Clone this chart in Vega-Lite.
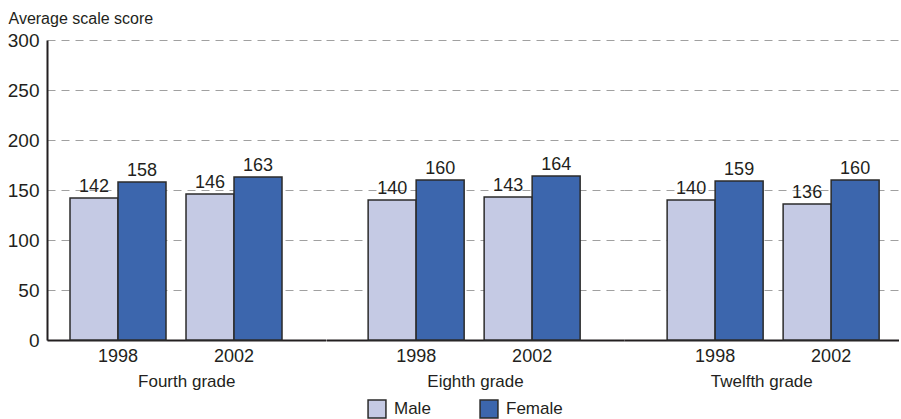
{
  "$schema": "https://vega.github.io/schema/vega-lite/v6.json",
  "padding": {"left": 7, "top": 10, "right": 3, "bottom": 0},
  "background": "white",
  "config": {
    "font": "Liberation Sans",
    "view": {"stroke": null},
    "axis": {"labelColor": "#231f20", "titleColor": "#231f20"}
  },
  "data": {
    "values": [
      {"grade": "Fourth grade", "year": "1998", "gender": "Male", "score": 142},
      {"grade": "Fourth grade", "year": "1998", "gender": "Female", "score": 158},
      {"grade": "Fourth grade", "year": "2002", "gender": "Male", "score": 146},
      {"grade": "Fourth grade", "year": "2002", "gender": "Female", "score": 163},
      {"grade": "Eighth grade", "year": "1998", "gender": "Male", "score": 140},
      {"grade": "Eighth grade", "year": "1998", "gender": "Female", "score": 160},
      {"grade": "Eighth grade", "year": "2002", "gender": "Male", "score": 143},
      {"grade": "Eighth grade", "year": "2002", "gender": "Female", "score": 164},
      {"grade": "Twelfth grade", "year": "1998", "gender": "Male", "score": 140},
      {"grade": "Twelfth grade", "year": "1998", "gender": "Female", "score": 159},
      {"grade": "Twelfth grade", "year": "2002", "gender": "Male", "score": 136},
      {"grade": "Twelfth grade", "year": "2002", "gender": "Female", "score": 160}
    ]
  },
  "spacing": 0,
  "hconcat": [
    {
      "width": 278.5,
      "height": 300,
      "transform": [{"filter": "datum.grade === 'Fourth grade'"}],
      "encoding": {
        "x": {"field": "year", "type": "nominal",
          "scale": {"paddingInner": 0.1724, "paddingOuter": 0.2866, "align": 0.346},
          "axis": {"title": "Fourth grade", "labelAngle": 0, "ticks": false, "domainColor": "#231f20", "domainWidth": 2, "labelFontSize": 18, "titleFontSize": 17, "titleFontWeight": "normal", "labelPadding": 7, "titlePadding": 8}},
        "xOffset": {"field": "gender", "type": "nominal", "sort": ["Male", "Female"]},
        "y": {"field": "score", "type": "quantitative",
          "scale": {"domain": [0, 300]},
          "axis": {"values": [0, 50, 100, 150, 200, 250, 300], "ticks": false, "domainColor": "#231f20", "domainWidth": 2, "labelFontSize": 19, "labelPadding": 8, "gridDash": [8, 6], "gridColor": "#a0a0a0", "title": "Average scale score", "titleAngle": 0, "titleAlign": "left", "titleBaseline": "alphabetic", "titleX": -39, "titleY": -17, "titleFontSize": 16, "titleFontWeight": "normal"}}
      },
      "layer": [
        {"mark": {"type": "bar", "stroke": "#2b2b2b", "strokeWidth": 1.5},
         "encoding": {"color": {"field": "gender", "type": "nominal", "sort": ["Male", "Female"],
           "scale": {"domain": ["Male", "Female"], "range": ["#c5cae4", "#3c66ad"]},
           "legend": {"orient": "none", "legendX": 320, "legendY": 359, "direction": "horizontal", "title": null, "symbolType": "square", "symbolSize": 320, "symbolStrokeColor": "#2b2b2b", "symbolStrokeWidth": 1.5, "symbolOpacity": 1, "labelFontSize": 17, "labelColor": "#231f20", "columnPadding": 46, "labelOffset": 7}}}},
        {"mark": {"type": "text", "baseline": "bottom", "dy": -2, "fontSize": 18, "color": "#231f20"},
         "encoding": {"text": {"field": "score", "type": "quantitative"}}}
      ]
    },
    {
      "width": 298,
      "height": 300,
      "transform": [{"filter": "datum.grade === 'Eighth grade'"}],
      "encoding": {
        "x": {"field": "year", "type": "nominal",
          "scale": {"paddingInner": 0.1724, "paddingOuter": 0.3707, "align": 0.49},
          "axis": {"title": "Eighth grade", "labelAngle": 0, "ticks": false, "domainColor": "#231f20", "domainWidth": 2, "labelFontSize": 18, "titleFontSize": 17, "titleFontWeight": "normal", "labelPadding": 7, "titlePadding": 8}},
        "xOffset": {"field": "gender", "type": "nominal", "sort": ["Male", "Female"]},
        "y": {"field": "score", "type": "quantitative",
          "scale": {"domain": [0, 300]},
          "axis": {"values": [0, 50, 100, 150, 200, 250, 300], "labels": false, "ticks": false, "domain": false, "gridDash": [8, 6], "gridColor": "#a0a0a0", "title": null}}
      },
      "layer": [
        {"mark": {"type": "bar", "stroke": "#2b2b2b", "strokeWidth": 1.5},
         "encoding": {"color": {"field": "gender", "type": "nominal", "sort": ["Male", "Female"],
           "scale": {"domain": ["Male", "Female"], "range": ["#c5cae4", "#3c66ad"]}}}},
        {"mark": {"type": "text", "baseline": "bottom", "dy": -2, "fontSize": 18, "color": "#231f20"},
         "encoding": {"text": {"field": "score", "type": "quantitative"}}}
      ]
    },
    {
      "width": 274.5,
      "height": 300,
      "transform": [{"filter": "datum.grade === 'Twelfth grade'"}],
      "encoding": {
        "x": {"field": "year", "type": "nominal",
          "scale": {"paddingInner": 0.1724, "paddingOuter": 0.2694, "align": 0.69},
          "axis": {"title": "Twelfth grade", "labelAngle": 0, "ticks": false, "domainColor": "#231f20", "domainWidth": 2, "labelFontSize": 18, "titleFontSize": 17, "titleFontWeight": "normal", "labelPadding": 7, "titlePadding": 8}},
        "xOffset": {"field": "gender", "type": "nominal", "sort": ["Male", "Female"]},
        "y": {"field": "score", "type": "quantitative",
          "scale": {"domain": [0, 300]},
          "axis": {"values": [0, 50, 100, 150, 200, 250, 300], "labels": false, "ticks": false, "domain": false, "gridDash": [8, 6], "gridColor": "#a0a0a0", "title": null}}
      },
      "layer": [
        {"mark": {"type": "bar", "stroke": "#2b2b2b", "strokeWidth": 1.5},
         "encoding": {"color": {"field": "gender", "type": "nominal", "sort": ["Male", "Female"],
           "scale": {"domain": ["Male", "Female"], "range": ["#c5cae4", "#3c66ad"]}}}},
        {"mark": {"type": "text", "baseline": "bottom", "dy": -2, "fontSize": 18, "color": "#231f20"},
         "encoding": {"text": {"field": "score", "type": "quantitative"}}}
      ]
    }
  ],
  "resolve": {"scale": {"y": "shared", "color": "shared"}}
}
